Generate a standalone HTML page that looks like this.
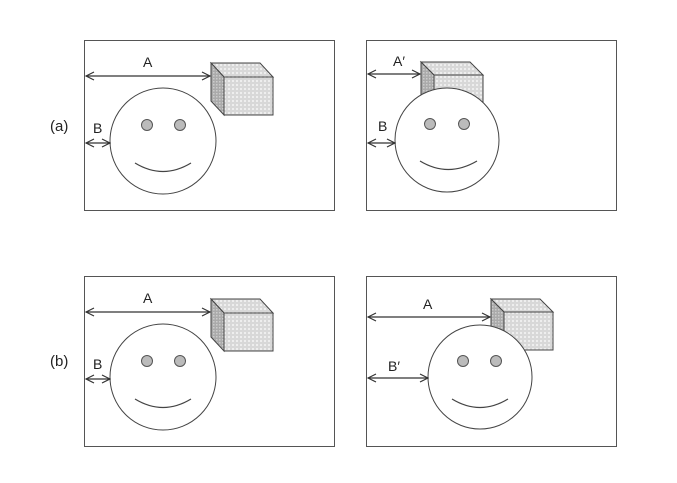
<!DOCTYPE html>
<html><head><style>body{margin:0;background:#fff}svg{display:block}</style></head><body>
<svg width="677" height="483" viewBox="0 0 677 483" xmlns="http://www.w3.org/2000/svg" font-family="'Liberation Sans', sans-serif">
<defs>
<marker id="ar" markerWidth="10" markerHeight="10" refX="9" refY="5" orient="auto-start-reverse" markerUnits="userSpaceOnUse">
<path d="M1,1 L9,5 L1,9" fill="none" stroke="#333" stroke-width="1.2"/></marker>
<pattern id="dots" width="4" height="4" patternUnits="userSpaceOnUse"><rect width="4" height="4" fill="#d8d8d8"/><rect width="2" height="2" fill="#eee"/></pattern>
<pattern id="dots2" width="3" height="3" patternUnits="userSpaceOnUse"><rect width="3" height="3" fill="#aaa"/><rect width="1.5" height="1.5" fill="#ccc"/></pattern>
</defs>
<g stroke="#555" fill="none" stroke-width="1">
<rect x="84.5" y="40.5" width="250" height="170"/>
<rect x="366.5" y="40.5" width="250" height="170"/>
<rect x="84.5" y="276.5" width="250" height="170"/>
<rect x="366.5" y="276.5" width="250" height="170"/>
</g>
<g font-size="15" fill="#222">
<text x="50" y="131">(a)</text>
<text x="50" y="366">(b)</text>
</g>
<!-- cube helper: back-left (bx,by), front (fx,fy) w48 h38 -->
<g stroke="#444" stroke-width="1">
<!-- a-left -->
<polygon points="211,63 260,63 273,77 224,77" fill="url(#dots)"/>
<polygon points="211,63 224,77 224,115 211,101" fill="url(#dots2)"/>
<rect x="224" y="77" width="49" height="38" fill="url(#dots)"/>
<!-- a-right -->
<polygon points="421,62 470,62 483,75 434,75" fill="url(#dots)"/>
<polygon points="421,62 434,75 434,113 421,99" fill="url(#dots2)"/>
<rect x="434" y="75" width="49" height="38" fill="url(#dots)"/>
<!-- b-left -->
<polygon points="211,299 260,299 273,313 224,313" fill="url(#dots)"/>
<polygon points="211,299 224,313 224,351 211,337" fill="url(#dots2)"/>
<rect x="224" y="313" width="49" height="38" fill="url(#dots)"/>
<!-- b-right -->
<polygon points="491,299 540,299 553,312 504,312" fill="url(#dots)"/>
<polygon points="491,299 504,312 504,350 491,336" fill="url(#dots2)"/>
<rect x="504" y="312" width="49" height="38" fill="url(#dots)"/>
</g>
<g stroke="#444" stroke-width="1" fill="#fff">
<circle cx="163" cy="141" r="53"/>
<circle cx="447" cy="140" r="52"/>
<circle cx="163" cy="377" r="53"/>
<circle cx="480" cy="377" r="52"/>
</g>
<g stroke="#555" fill="#bbb">
<circle cx="147" cy="125" r="5.5"/><circle cx="180" cy="125" r="5.5"/>
<circle cx="430" cy="124" r="5.5"/><circle cx="464" cy="124" r="5.5"/>
<circle cx="147" cy="361" r="5.5"/><circle cx="180" cy="361" r="5.5"/>
<circle cx="463" cy="361" r="5.5"/><circle cx="496" cy="361" r="5.5"/>
</g>
<g stroke="#444" fill="none" stroke-width="1.2">
<path d="M135,163 Q163,180 191,163"/>
<path d="M420,161 Q448,178 477,161"/>
<path d="M135,399 Q163,416 191,399"/>
<path d="M452,399 Q480,416 508,399"/>
</g>
<g stroke="#333" stroke-width="1.2" marker-start="url(#ar)" marker-end="url(#ar)">
<line x1="86" y1="76" x2="210" y2="76"/>
<line x1="86" y1="143" x2="110" y2="143"/>
<line x1="368" y1="74" x2="420" y2="74"/>
<line x1="368" y1="143" x2="395" y2="143"/>
<line x1="86" y1="312" x2="210" y2="312"/>
<line x1="86" y1="379" x2="110" y2="379"/>
<line x1="368" y1="317" x2="490" y2="317"/>
<line x1="368" y1="378" x2="428" y2="378"/>
</g>
<g font-size="14" fill="#222">
<text x="143" y="67">A</text>
<text x="93" y="133">B</text>
<text x="393" y="66">A′</text>
<text x="378" y="131">B</text>
<text x="143" y="303">A</text>
<text x="93" y="369">B</text>
<text x="423" y="309">A</text>
<text x="388" y="371">B′</text>
</g>
</svg>
</body></html>
